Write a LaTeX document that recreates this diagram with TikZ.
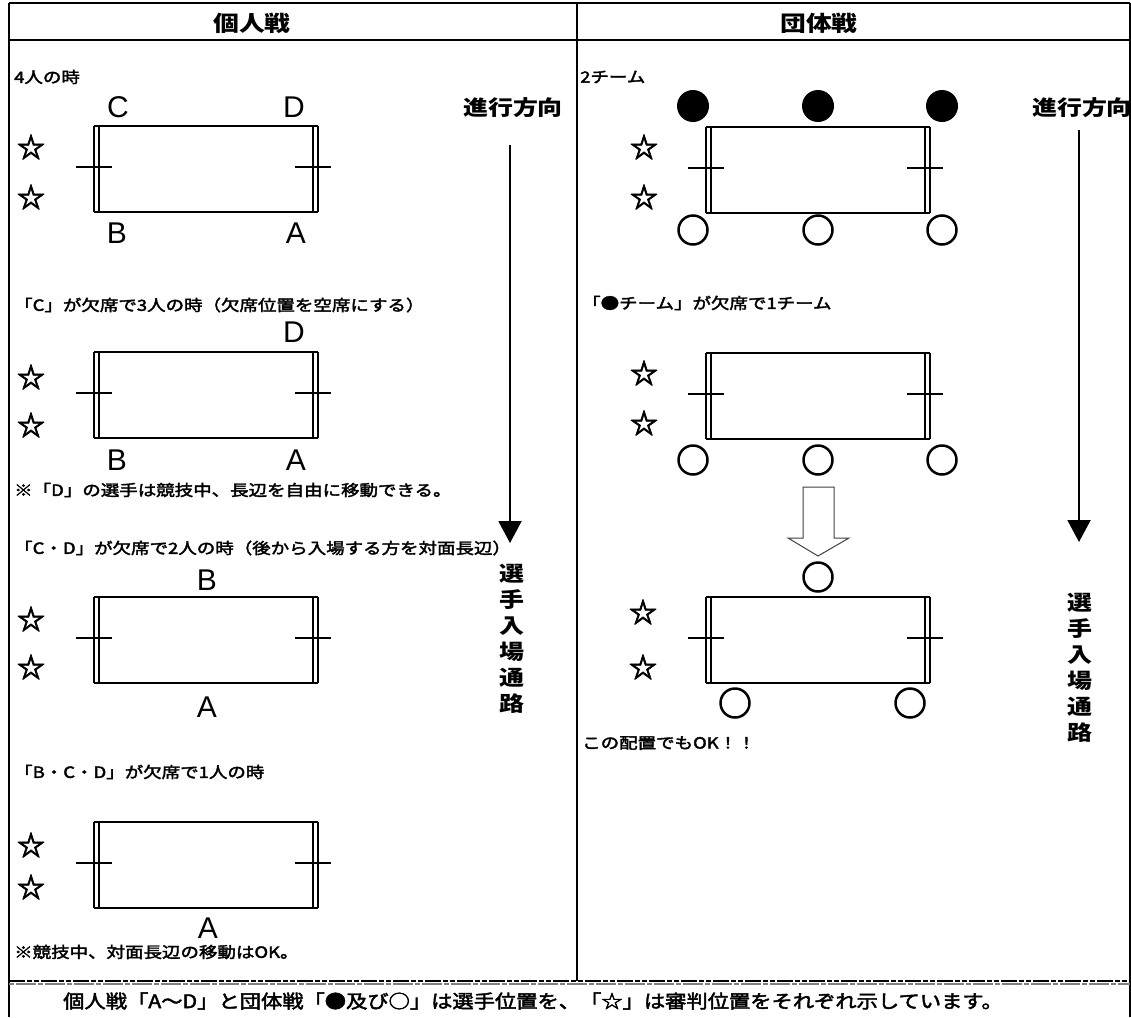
\documentclass[tikz,border=0pt]{standalone}
\usepackage{fontspec}
\setmainfont{Liberation Sans}
\newfontfamily\jpb[FakeStretch=1.2]{Noto Sans CJK JP}
\newfontfamily\jp[FakeStretch=1.2,FakeBold=2.5]{Noto Sans CJK JP}
\newfontfamily\jpnote[FakeStretch=1.15,FakeBold=2.5]{Noto Sans CJK JP}
\newfontfamily\jpstar[FakeBold=2.5]{Noto Sans CJK JP}
\usetikzlibrary{arrows.meta}
\begin{document}
\begin{tikzpicture}[x=1pt,y=-1pt,
  lbl/.style={font=\jp\fontsize{15.4}{17}\selectfont, anchor=west, inner sep=0pt},
  hdr/.style={font=\jpb\bfseries\fontsize{21.5}{24}\selectfont, inner sep=0pt},
  dirlbl/.style={font=\jpb\bfseries\fontsize{20.8}{24}\selectfont, inner sep=0pt},
  vtxt/.style={font=\jpb\bfseries\fontsize{20.8}{26}\selectfont, inner sep=0pt, align=center},
  letter/.style={font=\fontsize{30}{32}\selectfont, inner sep=0pt},
  refstar/.style={font=\jpstar\bfseries\fontsize{28}{30}\selectfont, inner sep=0pt},
  fullmark/.style={circle, fill=black, minimum size=32pt, inner sep=0pt},
  openmark/.style={circle, draw=black, line width=2.5pt, minimum size=29pt, inner sep=0pt},
  frame/.style={line width=2pt},
  flow/.style={line width=2pt, -{Triangle[width=23pt,length=22pt]}},
  court/.pic={
    \draw[line width=2pt] (0,0) -- (224,0) (0,86) -- (224,86);
    \draw[line width=1.5pt] (0,0) -- (0,86) (5,0) -- (5,86) (219,0) -- (219,86) (224,0) -- (224,86);
    \draw[line width=1.5pt] (-18,41) -- (18,41) (201,41) -- (237,41);
  }]
\useasboundingbox (0,0) rectangle (1131,1017);
\fill[white] (0,0) rectangle (1131,1017);

% table frame
\draw[frame] (9,3) -- (1130,3);
\draw[frame] (9,40) -- (1130,40);
\draw[frame] (9,3) -- (9,1017);
\draw[frame] (1130,3) -- (1130,1017);
\draw[frame] (577,3) -- (577,981);
\draw[line width=1.3pt, dash pattern=on 16pt off 2pt on 5pt off 2pt on 5pt off 2pt] (9,981) -- (1130,981);
\draw[line width=1.3pt, gray, dash pattern=on 5pt off 2pt on 20pt off 2pt] (9,984) -- (1130,984);

% headers
\node[hdr] (h1) at (252,23) {個人戦};
\node[hdr] (h2) at (819,23) {団体戦};

% ---------- left column ----------
\node[lbl] (t1) at (14,77) {4人の時};
\pic at (94,126) {court};
\node[letter] (c1) at (118,107) {C};
\node[letter] (d1) at (294,107) {D};
\node[letter] (b1) at (117,233) {B};
\node[letter] (a1) at (296,233) {A};
\node[refstar] (s1a) at (31,147) {☆};
\node[refstar] (s1b) at (31,197) {☆};

\node[lbl] (t2) at (14,305) {「C」が欠席で3人の時（欠席位置を空席にする）};
\pic at (94,352) {court};
\node[letter] (d2) at (294,332) {D};
\node[letter] (b2) at (117,460) {B};
\node[letter] (a2) at (296,460) {A};
\node[refstar] (s2a) at (31,377) {☆};
\node[refstar] (s2b) at (31,425) {☆};
\node[lbl] (n2) at (14,490) {※「D」の選手は競技中、長辺を自由に移動できる。};

\node[lbl] (t3) at (14,548) {「C・D」が欠席で2人の時（後から入場する方を対面長辺）};
\pic at (94,597) {court};
\node[letter] (b3) at (207,580) {B};
\node[letter] (a3) at (207,707) {A};
\node[refstar] (s3a) at (31,619) {☆};
\node[refstar] (s3b) at (31,667) {☆};

\node[lbl] (t4) at (14,772) {「B・C・D」が欠席で1人の時};
\pic at (94,822) {court};
\node[letter] (a4) at (208,928) {A};
\node[refstar] (s4a) at (31,845) {☆};
\node[refstar] (s4b) at (31,887) {☆};
\node[lbl] (n4) at (14,952) {※競技中、対面長辺の移動はOK。};

% left direction
\node[dirlbl] (dirL) at (513,108) {進行方向};
\coordinate (aLs) at (510,145);
\coordinate (aLe) at (510,543);
\draw[flow] (aLs) -- (aLe);
\node[vtxt] (vL) at (512,639) {選\\手\\入\\場\\通\\路};

% ---------- right column ----------
\node[lbl] (u1) at (580,77) {2チーム};
\pic at (706,127) {court};
\node[fullmark] (f1) at (693,106) {};
\node[fullmark] (f2) at (818,106) {};
\node[fullmark] (f3) at (942,106) {};
\node[openmark] (o1) at (693,230) {};
\node[openmark] (o2) at (818,230) {};
\node[openmark] (o3) at (942,230) {};
\node[refstar] (r1a) at (644,147) {☆};
\node[refstar] (r1b) at (644,197) {☆};

\node[lbl] (u2) at (582,303) {「●チーム」が欠席で1チーム};
\pic at (706,353) {court};
\node[openmark] (o4) at (693,460) {};
\node[openmark] (o5) at (818,460) {};
\node[openmark] (o6) at (942,460) {};
\node[refstar] (r2a) at (644,373) {☆};
\node[refstar] (r2b) at (644,423) {☆};

\draw[gray!50!black, line width=1pt, fill=white] (803,487) -- (834,487) -- (834,538) -- (849,538) -- (818,556) -- (788,538) -- (803,538) -- cycle;

\pic at (706,597) {court};
\node[openmark] (o7) at (818,577) {};
\node[openmark] (o8) at (735,703) {};
\node[openmark] (o9) at (910,703) {};
\node[refstar] (r3a) at (643,612) {☆};
\node[refstar] (r3b) at (643,667) {☆};
\node[lbl] (u3) at (582,743) {この配置でもOK！！};

\node[dirlbl] (dirR) at (1082,108) {進行方向};
\coordinate (aRs) at (1079,130);
\coordinate (aRe) at (1079,542);
\draw[flow] (aRs) -- (aRe);
\node[vtxt] (vR) at (1080,668) {選\\手\\入\\場\\通\\路};

% bottom note
\node[font=\jpnote\fontsize{18.5}{20}\selectfont, anchor=west, inner sep=0pt] (note) at (63,1001) {個人戦「A～D」と団体戦「●及び○」は選手位置を、「☆」は審判位置をそれぞれ示しています。};
\end{tikzpicture}
\end{document}
